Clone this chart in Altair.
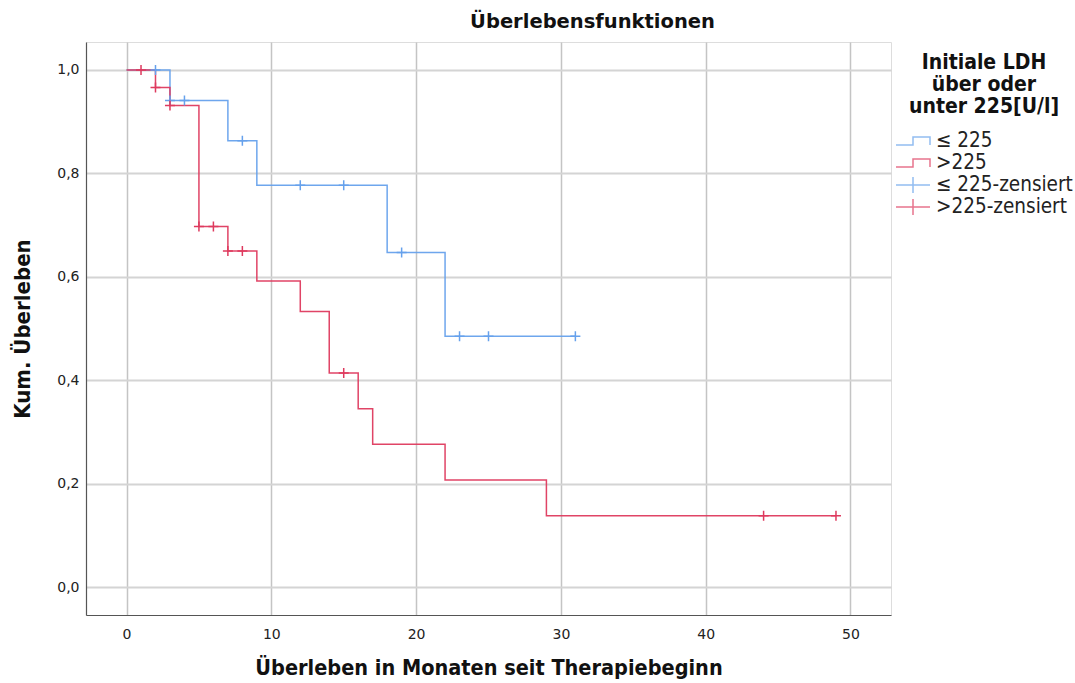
import altair as alt
import pandas as pd

legend_domain = ["≤ 225", ">225", "≤ 225-zensiert", ">225-zensiert"]
BLUE = "#66A1EC"
RED = "#DE3A5E"
legend_colors = [BLUE, RED, BLUE, RED]

blue_times = [0, 3, 7, 9, 18, 22, 31]
blue_surv = [1.0, 0.941, 0.863, 0.777, 0.647, 0.485, 0.485]
red_times = [0, 2, 3, 5, 7, 9, 12, 14, 16, 17, 22, 29, 49]
red_surv = [1.0, 0.966, 0.931, 0.697, 0.650, 0.592, 0.533, 0.414, 0.345, 0.276, 0.207, 0.138, 0.138]

blue_cens_t = [2, 3, 4, 8, 12, 15, 19, 23, 25, 31]
blue_cens_s = [1.0, 0.941, 0.941, 0.863, 0.777, 0.777, 0.647, 0.485, 0.485, 0.485]
red_cens_t = [1, 2, 3, 5, 6, 7, 8, 15, 44, 49]
red_cens_s = [1.0, 0.966, 0.931, 0.697, 0.697, 0.650, 0.650, 0.414, 0.138, 0.138]

x_ticks = [0, 10, 20, 30, 40, 50]
y_ticks = [0.0, 0.2, 0.4, 0.6, 0.8, 1.0]

blue_line_df = pd.DataFrame({"t": blue_times, "s": blue_surv})
red_line_df = pd.DataFrame({"t": red_times, "s": red_surv})
blue_cens_df = pd.DataFrame({"t": blue_cens_t, "s": blue_cens_s})
red_cens_df = pd.DataFrame({"t": red_cens_t, "s": red_cens_s})
legend_df = pd.DataFrame({"grp": legend_domain})

PLUS = "M-1,0L1,0M0,-1L0,1"
STEP_LEG = "M0.7,-0.8M0.7,0.8M-1,0.4L0.7,0.4L0.7,-0.4L2.4,-0.4L2.4,0.4"
PLUS_LEG = "M-1,0L2.4,0M0.7,-0.8L0.7,0.8"

FONT = "DejaVu Sans"
COND = "DejaVu Sans Condensed, DejaVu Sans"

x_scale = alt.Scale(domain=[-2.8, 52.8], nice=False, zero=False)
y_scale = alt.Scale(domain=[-0.054, 1.054], nice=False, zero=False)

x_axis = alt.Axis(
    values=x_ticks, title="Überleben in Monaten seit Therapiebeginn",
    grid=True, gridColor="#c4c4c4", gridWidth=1.5,
    domainColor="#555555", domainWidth=1.2, ticks=False,
    labelPadding=12, labelFont=FONT, labelFontSize=14, labelColor="#222222",
    titleFont=COND, titleFontSize=21.5, titleFontWeight="bold", titleColor="#111111",
    titlePadding=16,
)
y_axis = alt.Axis(
    values=y_ticks, title="Kum. Überleben",
    labelExpr="replace(format(datum.value, '.1f'), '.', ',')",
    grid=True, gridColor="#d4d4d4", gridWidth=2,
    domainColor="#555555", domainWidth=1.2, ticks=False,
    labelPadding=7, labelFont=FONT, labelFontSize=14, labelColor="#222222",
    titleFont=COND, titleFontSize=22, titleFontWeight="bold", titleColor="#111111",
    titlePadding=22,
)

color_scale = alt.Scale(domain=legend_domain, range=legend_colors)
shape_scale = alt.Scale(domain=legend_domain, range=[STEP_LEG, STEP_LEG, PLUS_LEG, PLUS_LEG])

legend = alt.Legend(
    title=["Initiale LDH", "über oder", "unter 225[U/l]"],
    orient="none", legendX=809, legendY=10, padding=0,
    titleFont=COND, titleFontSize=21, titleFontWeight="bold", titleColor="#111111",
    titleLineHeight=22, titleAnchor="middle", titleAlign="center", titlePadding=13,
    labelFont=COND, labelFontSize=20.5, labelColor="#222222", labelLimit=300,
    labelOffset=19, symbolSize=400, symbolStrokeWidth=1.5, rowPadding=0,
)


def step_line(df, color):
    return alt.Chart(df).mark_line(interpolate="step-after", strokeWidth=1.5,
                                   strokeOpacity=0.95, color=color).encode(
        x=alt.X("t:Q", scale=x_scale, axis=x_axis),
        y=alt.Y("s:Q", scale=y_scale, axis=y_axis),
        order="t:Q",
    )


def censor(df, color):
    return alt.Chart(df).mark_point(filled=False, size=100, strokeWidth=1.5,
                                    shape=PLUS, color=color, opacity=1).encode(
        x=alt.X("t:Q", scale=x_scale),
        y=alt.Y("s:Q", scale=y_scale),
    )


legend_layer = alt.Chart(legend_df).mark_point(filled=False, size=0, strokeWidth=1.5).encode(
    color=alt.Color("grp:N", scale=color_scale, legend=legend),
    shape=alt.Shape("grp:N", scale=shape_scale, legend=legend),
)

chart = alt.layer(
    step_line(blue_line_df, BLUE), step_line(red_line_df, RED),
    censor(blue_cens_df, BLUE), censor(red_cens_df, RED),
    legend_layer,
).properties(
    width=805, height=573,
    autosize=alt.AutoSizeParams(type="none"),
    padding={"left": 86, "top": 42, "right": 184, "bottom": 68},
    title=alt.TitleParams("Überlebensfunktionen", font=FONT, fontSize=19.5, fontWeight="bold",
                          color="#111111", anchor="middle", frame="group", dx=104, offset=10),
).configure_view(stroke=None).configure(background="white")

chart.save("out.html", embed_options={"renderer": "svg", "actions": False})
